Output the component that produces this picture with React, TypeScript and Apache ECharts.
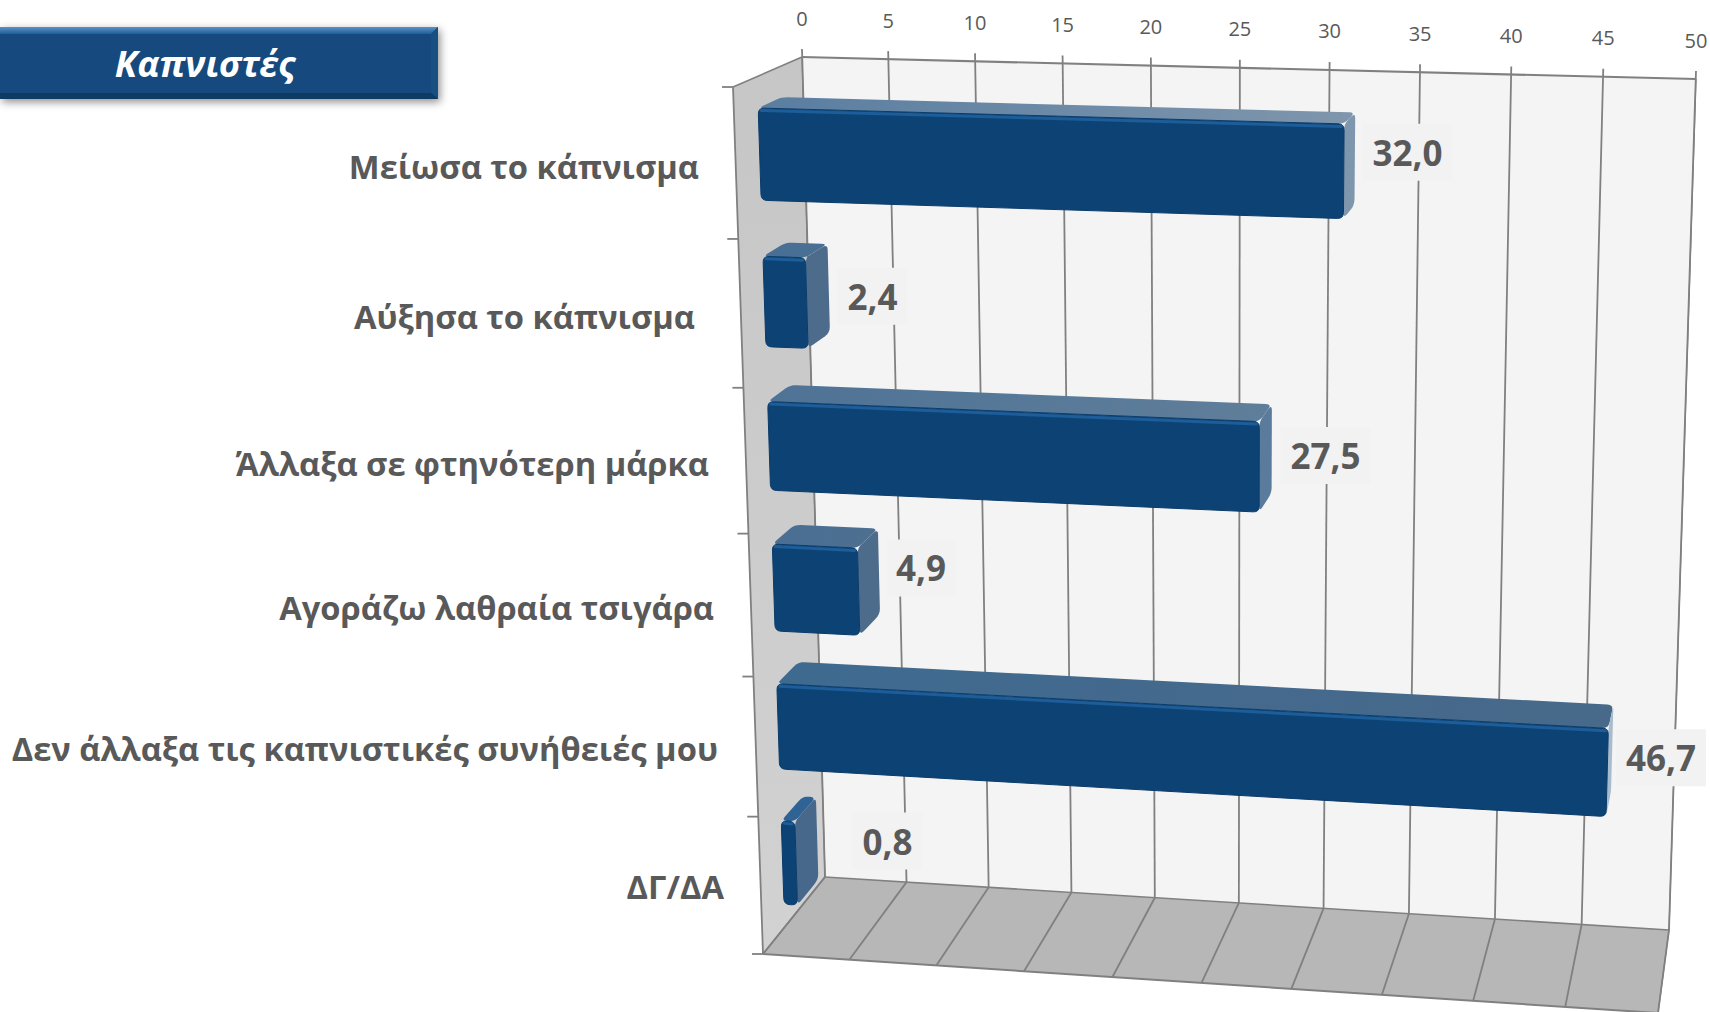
import React, { useEffect, useRef } from "react";
import * as echarts from "echarts";

const categories = [
  "Μείωσα το κάπνισμα",
  "Αύξησα το κάπνισμα",
  "Άλλαξα σε φτηνότερη μάρκα",
  "Αγοράζω λαθραία τσιγάρα",
  "Δεν άλλαξα τις καπνιστικές συνήθειές μου",
  "ΔΓ/ΔΑ",
];
const values = [32.0, 2.4, 27.5, 4.9, 46.7, 0.8];
const tickValues = [0, 5, 10, 15, 20, 25, 30, 35, 40, 45, 50];
const titleText = "Καπνιστές";

// Layout of the perspective box (pixel corners of the back and front planes)
const BACK = [[802, 57], [1696, 79], [825, 877], [1669, 930]];
const FRONT = [[733, 87], [1685, 112], [763, 954], [1658, 1013]];
const BAR_W_FRONT = 0.35;
const BAR_W_BACK = 0.69;
const LABEL_W = 0.6;
const BAR_V0 = 0.21;
const BAR_V1 = 0.83;
// Hand-placed offsets of labels (from the bar end) and of category labels (right end, centre)
const LABEL_NUDGE = [[55.5, -10], [49.5, 4], [57, 2], [47.5, -9], [50, 3], [76, -4]];
const CAT_LABEL_POS = [[699, 166], [695, 316], [709, 463], [714, 607], [718, 748], [724, 886]];
const TOP_COLORS = [["#5a7ea1", "#7f96ac"], ["#4a6f94", "#4a6f94"], ["#4f7396", "#5f7e9a"], ["#4a6f94", "#4d6f90"], ["#3f6a90", "#48698a"], ["#2f6396", "#2f6396"]];
const SIDE_COLORS = ["#7f97ad", "#4d6c8c", "#5a7b9b", "#4d6c8c", "#a9bccd", "#47688a"];

function homography(q: number[][]) {
  const [[x0, y0], [x1, y1], [x3, y3], [x2, y2]] = q;
  const dx1 = x1 - x2, dx2 = x3 - x2, dy1 = y1 - y2, dy2 = y3 - y2;
  const sx = x0 - x1 + x2 - x3, sy = y0 - y1 + y2 - y3;
  const den = dx1 * dy2 - dx2 * dy1;
  const g = (sx * dy2 - dx2 * sy) / den;
  const h = (dx1 * sy - sx * dy1) / den;
  const a = x1 - x0 + g * x1, b = x3 - x0 + h * x3, c = x0;
  const d = y1 - y0 + g * y1, e = y3 - y0 + h * y3, f = y0;
  return (u: number, v: number) => {
    const w = g * u + h * v + 1;
    return [(a * u + b * v + c) / w, (d * u + e * v + f) / w];
  };
}
const hBack = homography(BACK);
const hFront = homography(FRONT);
function project(u: number, v: number, w: number) {
  const p = hFront(u, v), q = hBack(u, v);
  return [p[0] + (q[0] - p[0]) * w, p[1] + (q[1] - p[1]) * w];
}

function rounded(points: number[][], r: number) {
  const out: number[][] = [];
  const n = points.length;
  for (let i = 0; i < n; i++) {
    const p = points[i], a = points[(i + n - 1) % n], b = points[(i + 1) % n];
    const la = Math.hypot(a[0] - p[0], a[1] - p[1]);
    const lb = Math.hypot(b[0] - p[0], b[1] - p[1]);
    const ra = Math.min(r, la / 2), rb = Math.min(r, lb / 2);
    const s = [p[0] + ((a[0] - p[0]) * ra) / la, p[1] + ((a[1] - p[1]) * ra) / la];
    const e = [p[0] + ((b[0] - p[0]) * rb) / lb, p[1] + ((b[1] - p[1]) * rb) / lb];
    for (let t = 0; t <= 1.001; t += 0.25) {
      const m = 1 - t;
      out.push([m * m * s[0] + 2 * m * t * p[0] + t * t * e[0], m * m * s[1] + 2 * m * t * p[1] + t * t * e[1]]);
    }
  }
  return out;
}

const GRID_COLOR = "#808080";
const TEXT_COLOR = "#595959";
const FONT = "'Open Sans', sans-serif";

function horiz(c0: string, c1: string) {
  return new echarts.graphic.LinearGradient(0, 0, 1, 0, [
    { offset: 0, color: c0 },
    { offset: 1, color: c1 },
  ]);
}

function renderWalls() {
  const c = (u: number, v: number, w: number) => project(u, v, w);
  const edge = (a: number[], b: number[], width = 1.6) => ({
    type: "line",
    shape: { x1: a[0], y1: a[1], x2: b[0], y2: b[1] },
    style: { stroke: GRID_COLOR, lineWidth: width },
  });
  return {
    type: "group",
    children: [
      {
        type: "polygon",
        shape: { points: [c(0, 0, 1), c(1, 0, 1), c(1, 1, 1), c(0, 1, 1)] },
        style: { fill: "#f4f4f4" },
      },
      {
        type: "polygon",
        shape: { points: [c(0, 0, 1), c(0, 1, 1), c(0, 1, 0), c(0, 0, 0)] },
        style: {
          fill: new echarts.graphic.LinearGradient(0, 0, 0, 1, [
            { offset: 0, color: "#c6c6c6" },
            { offset: 1, color: "#d2d2d2" },
          ]),
        },
      },
      {
        type: "polygon",
        shape: { points: [c(0, 1, 1), c(1, 1, 1), c(1, 1, 0), c(0, 1, 0)] },
        style: { fill: "#b7b7b7" },
      },
      edge(c(0, 0, 1), c(1, 0, 1), 2.2),
      edge(c(1, 0, 1), c(1, 1, 1), 1.2),
      edge(c(0, 0, 1), c(0, 1, 1), 1.2),
      edge(c(0, 0, 1), c(0, 0, 0)),
      edge(c(0, 0, 0), c(0, 1, 0), 1.8),
      edge(c(0, 1, 1), c(1, 1, 1)),
      edge(c(0, 1, 0), c(1, 1, 0), 2),
      edge(c(0, 1, 1), c(0, 1, 0)),
      edge(c(1, 1, 1), c(1, 1, 0), 1.2),
    ],
  };
}

function renderGrid(params: any, api: any) {
  const W = params.coordSys.width;
  const t = api.value(0);
  const u = api.coord([t, 0])[0] / W;
  const top = project(u, 0, 1), bot = project(u, 1, 1), fr = project(u, 1, 0);
  const line = (a: number[], b: number[]) => ({
    type: "line",
    shape: { x1: a[0], y1: a[1], x2: b[0], y2: b[1] },
    style: { stroke: GRID_COLOR, lineWidth: 1.8 },
  });
  return {
    type: "group",
    children: [
      line([top[0], top[1] - 8], bot),
      line(bot, fr),
      {
        type: "text",
        style: {
          x: top[0],
          y: top[1] - 39,
          text: String(t),
          fill: TEXT_COLOR,
          font: `20px ${FONT}`,
          align: "center",
          verticalAlign: "middle",
        },
      },
    ],
  };
}

function renderCatTicks(params: any, api: any) {
  const H = params.coordSys.height;
  const i = api.value(1);
  const band = api.size([0, 1])[1];
  const y = api.coord([0, i])[1];
  const vs = [(y - band / 2) / H];
  if (i === categories.length - 1) vs.push((y + band / 2) / H);
  return {
    type: "group",
    children: vs.map((v) => {
      const p = project(0, v, 0);
      return {
        type: "line",
        shape: { x1: p[0] - 11, y1: p[1], x2: p[0], y2: p[1] },
        style: { stroke: GRID_COLOR, lineWidth: 1.8 },
      };
    }),
  };
}

function barGeom(params: any, api: any) {
  const W = params.coordSys.width, H = params.coordSys.height;
  const i = api.value(1);
  const band = api.size([0, 1])[1];
  const y = api.coord([0, i])[1];
  const top = y - band / 2;
  const v0 = (top + band * BAR_V0) / H;
  const v1 = (top + band * BAR_V1) / H;
  const uE = api.coord([api.value(0), i])[0] / W;
  return { i, v0, v1, uE };
}

function renderBar(params: any, api: any) {
  const { i, v0, v1, uE } = barGeom(params, api);
  const ftl = project(0, v0, BAR_W_FRONT), ftr = project(uE, v0, BAR_W_FRONT);
  const fbl = project(0, v1, BAR_W_FRONT), fbr = project(uE, v1, BAR_W_FRONT);
  const btl = project(0, v0, BAR_W_BACK), btr = project(uE, v0, BAR_W_BACK), bbr = project(uE, v1, BAR_W_BACK);
  const [c0, c1] = TOP_COLORS[i];
  return {
    type: "group",
    children: [
      {
        type: "polygon",
        shape: { points: rounded([ftl, ftr, btr, btl], 6) },
        style: { fill: horiz(c0, c1) },
      },
      {
        type: "polygon",
        shape: { points: rounded([ftr, btr, bbr, fbr], 6) },
        style: { fill: SIDE_COLORS[i] },
      },
      {
        type: "polygon",
        shape: { points: rounded([ftl, ftr, fbr, fbl], 6) },
        style: { fill: "#0c4374", stroke: "#0b3b69", lineWidth: 1 },
      },
      {
        type: "line",
        shape: { x1: ftl[0] + 3, y1: ftl[1] + 2.5, x2: ftr[0] - 3, y2: ftr[1] + 2.5 },
        style: { stroke: "#1d5d99", lineWidth: 3, lineCap: "round" },
      },
    ],
  };
}

function renderValueLabel(params: any, api: any) {
  const { i, v0, v1, uE } = barGeom(params, api);
  const p = project(uE, (v0 + v1) / 2, LABEL_W);
  const text = api.value(0).toFixed(1).replace(".", ",");
  return {
    type: "text",
    style: {
      x: p[0] + LABEL_NUDGE[i][0],
      y: p[1] + LABEL_NUDGE[i][1],
      text,
      fill: TEXT_COLOR,
      font: `bold 35px ${FONT}`,
      align: "center",
      verticalAlign: "middle",
      backgroundColor: "#f2f2f2",
      padding: [11, 10],
    },
  };
}

function renderCategoryLabel(params: any, api: any) {
  const i = api.value(1);
  return {
    type: "text",
    style: {
      x: CAT_LABEL_POS[i][0],
      y: CAT_LABEL_POS[i][1],
      text: categories[i],
      fill: TEXT_COLOR,
      font: `bold 32.7px ${FONT}`,
      align: "right",
      verticalAlign: "middle",
    },
  };
}

function custom(renderItem: any, data: any[]) {
  return {
    type: "custom",
    coordinateSystem: "cartesian2d",
    silent: true,
    clip: false,
    renderItem,
    data,
  };
}

export default function App() {
  const ref = useRef<HTMLDivElement>(null);
  useEffect(() => {
    const chart = echarts.init(ref.current!, null, { renderer: "svg" });
    const perBar = values.map((v, i) => [v, i]);
    chart.setOption({
      animation: false,
      backgroundColor: "#ffffff",
      grid: { left: 0, right: 0, top: 0, bottom: 0 },
      xAxis: { type: "value", min: 0, max: 50, interval: 5, show: false },
      yAxis: { type: "category", data: categories, inverse: true, show: false },
      graphic: [
        {
          type: "group",
          z: 10,
          children: [
            {
              type: "rect",
              shape: { x: 0, y: 27, width: 438, height: 72 },
              style: { fill: "#134a7d", shadowBlur: 8, shadowColor: "rgba(0,0,0,0.45)", shadowOffsetX: 2, shadowOffsetY: 3 },
            },
            {
              type: "polygon",
              shape: { points: [[0, 27], [438, 27], [431, 34], [0, 34]] },
              style: {
                fill: new echarts.graphic.LinearGradient(0, 0, 0, 1, [
                  { offset: 0, color: "#5b92c4" },
                  { offset: 1, color: "#1f5f99" },
                ]),
              },
            },
            {
              type: "polygon",
              shape: { points: [[438, 27], [438, 99], [431, 93], [431, 34]] },
              style: { fill: "#174f82" },
            },
            {
              type: "polygon",
              shape: { points: [[0, 93], [431, 93], [438, 99], [0, 99]] },
              style: { fill: "#0e3a63" },
            },
            {
              type: "text",
              style: {
                x: 205,
                y: 63,
                text: titleText,
                fill: "#ffffff",
                font: `italic bold 36.5px ${FONT}`,
                align: "center",
                verticalAlign: "middle",
              },
            },
          ],
        },
      ],
      series: [
        custom(renderWalls, [[0, 0]]),
        custom(renderGrid, tickValues.map((t) => [t, 0])),
        custom(renderCatTicks, categories.map((_, i) => [0, i])),
        custom(renderBar, perBar),
        custom(renderValueLabel, perBar),
        custom(renderCategoryLabel, categories.map((_, i) => [0, i])),
      ],
    });
    return () => chart.dispose();
  }, []);
  return (
    <div
      ref={ref}
      style={{ position: "absolute", left: 0, top: 0, width: 1710, height: 1012 }}
    />
  );
}
